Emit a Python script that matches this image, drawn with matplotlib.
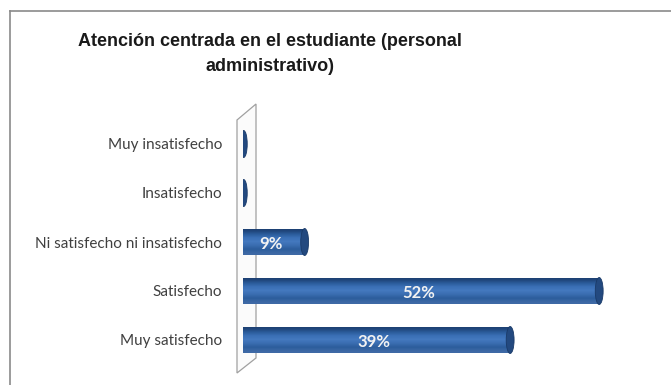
import numpy as np
import matplotlib.pyplot as plt
from matplotlib.patches import Polygon, Ellipse
from matplotlib.lines import Line2D
from matplotlib.colors import LinearSegmentedColormap

categories = ["Muy satisfecho", "Satisfecho", "Ni satisfecho ni insatisfecho",
              "Insatisfecho", "Muy insatisfecho"]
values = [39, 52, 9, 0, 0]
labels = ["39%", "52%", "9%", "", ""]
title = "Atención centrada en el estudiante (personal\nadministrativo)"

W, H = 671, 385
fig = plt.figure(figsize=(W / 100, H / 100), dpi=100)
fig.patch.set_facecolor("white")

# axes placed in pixel terms: 0% at x=243, 1% ~ 6.85 px
x0, x1 = 243, 671
y_top, y_bot = 105, 372
ax = fig.add_axes([x0 / W, 1 - y_bot / H, (x1 - x0) / W, (y_bot - y_top) / H])
ax.patch.set_visible(False)
for s in ax.spines.values():
    s.set_visible(False)
ax.set_xticks([])
ax.set_yticks(range(len(categories)))
ax.set_yticklabels(categories, family="Lato", fontsize=11, color="#404040")
ax.tick_params(axis="y", length=0, pad=15)

# back wall (thin 3D panel)
wall = Polygon([(237 / W, 1 - 120 / H), (256 / W, 1 - 104 / H),
                (256 / W, 1 - 358 / H), (237 / W, 1 - 373 / H)],
               closed=True, transform=fig.transFigure, facecolor="#fbfbfb",
               edgecolor="#a0a0a0", linewidth=0.9, zorder=-1)
fig.add_artist(wall)

# frame
fig.add_artist(Line2D([10 / W, 10 / W], [0, 1 - 11 / H], transform=fig.transFigure,
                      color="#8a8a8a", linewidth=1.2))
fig.add_artist(Line2D([10 / W, 1], [1 - 11 / H, 1 - 11 / H], transform=fig.transFigure,
                      color="#8a8a8a", linewidth=1.2))

bh = 0.55
cap_w = 1.15
grad = np.linspace(0, 1, 7).reshape(-1, 1)
cmap = LinearSegmentedColormap.from_list(
    "cyl", ["#1c3e70", "#2a5a98", "#3a6fb5", "#4479bf", "#3a6db0", "#2c5d9c", "#3f6aa6"])

for i, v in enumerate(values):
    if v > 0:
        bar = ax.barh(i, v, height=bh, color="#2f62a3", edgecolor="none", zorder=2)[0]
        im = ax.imshow(grad, cmap=cmap, aspect="auto", interpolation="bicubic",
                       extent=(0, v, i - bh / 2, i + bh / 2), zorder=3, origin="upper")
        im.set_clip_path(bar)
        ax.add_patch(Ellipse((v, i), cap_w, bh, facecolor="#23497f",
                             edgecolor="#1a3a68", linewidth=0.6, zorder=4))
        ax.text(v / 2 - 0.4, i - 0.04, labels[i], ha="center", va="center",
                color="#f2f2f2", fontsize=12, fontweight="bold", family="Lato", zorder=5)
    else:
        ax.add_patch(Ellipse((v + 0.1, i), cap_w * 0.9, bh, facecolor="#23497f",
                             edgecolor="#1a3a68", linewidth=0.6, zorder=4))

ax.set_aspect("auto")
ax.set_xlim(0, (x1 - x0) / 6.85)
ax.set_ylim(-(y_bot - 340) / 49, 4 + (144 - y_top) / 49)

fig.text(270 / W, 1 - 54 / H, title, ha="center", va="center", fontsize=13,
         fontweight="bold", family="Liberation Sans", color="#1a1a1a", linespacing=1.55,
         multialignment="center")

fig.savefig("out.png", dpi=100)
